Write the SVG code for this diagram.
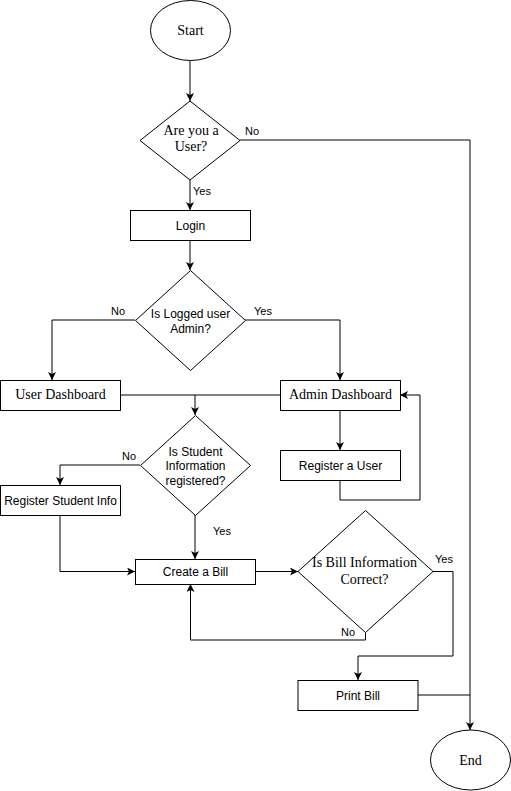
<svg xmlns="http://www.w3.org/2000/svg" width="511" height="791" viewBox="0 0 511 791">
  <style>
    .shape { fill: #ffffff; stroke: #000000; stroke-width: 1; }
    .edge { fill: none; stroke: #000000; stroke-width: 1; }
    .serif { font-family: "Liberation Serif", "Times New Roman", serif; font-size: 14px; fill: #000000; text-anchor: middle; }
    .sans { font-family: "Liberation Sans", Arial, sans-serif; font-size: 12px; fill: #000000; text-anchor: middle; }
    .lbl { font-family: "Liberation Sans", Arial, sans-serif; font-size: 11px; fill: #000000; }
  </style>
  <defs>
    <marker id="arrow" viewBox="0 0 8 8" refX="8" refY="4" markerWidth="8" markerHeight="8" markerUnits="userSpaceOnUse" orient="auto">
      <path d="M0,0 L8,4 L0,8 L2,4 Z" fill="#000000"/>
    </marker>
  </defs>

  <rect width="511" height="791" fill="#ffffff"/>

  <!-- connectors -->
  <g id="connectors">
    <path class="edge" d="M190,61 L190,101" marker-end="url(#arrow)"/>
    <path class="edge" d="M240,140 L470,140 L470,730" marker-end="url(#arrow)"/>
    <path class="edge" d="M190,180 L190,210" marker-end="url(#arrow)"/>
    <path class="edge" d="M190,240 L190,270" marker-end="url(#arrow)"/>
    <path class="edge" d="M135,320 L52,320 L52,380" marker-end="url(#arrow)"/>
    <path class="edge" d="M245,320 L340,320 L340,380" marker-end="url(#arrow)"/>
    <path class="edge" d="M120,395 L280,395"/>
    <path class="edge" d="M195,395 L195,415" marker-end="url(#arrow)"/>
    <path class="edge" d="M340,410 L340,450" marker-end="url(#arrow)"/>
    <path class="edge" d="M340,480 L340,500 L420,500 L420,395 L400,395" marker-end="url(#arrow)"/>
    <path class="edge" d="M140,465 L60,465 L60,485" marker-end="url(#arrow)"/>
    <path class="edge" d="M195,515 L195,559" marker-end="url(#arrow)"/>
    <path class="edge" d="M60,515 L60,571.5 L135,571.5" marker-end="url(#arrow)"/>
    <path class="edge" d="M255,571.5 L298,571.5" marker-end="url(#arrow)"/>
    <path class="edge" d="M365.5,632.5 L365.5,640 L190.5,640 L190.5,584" marker-end="url(#arrow)"/>
    <path class="edge" d="M433,571.5 L453,571.5 L453,656 L358,656 L358,680" marker-end="url(#arrow)"/>
    <path class="edge" d="M418,695 L470,695"/>
    <text class="lbl" x="245" y="135">No</text>
    <text class="lbl" x="193" y="195">Yes</text>
    <text class="lbl" x="111" y="315">No</text>
    <text class="lbl" x="254" y="315">Yes</text>
    <text class="lbl" x="122" y="460">No</text>
    <text class="lbl" x="213" y="535">Yes</text>
    <text class="lbl" x="435" y="563">Yes</text>
    <text class="lbl" x="341" y="636">No</text>
  </g>

  <g id="start">
    <ellipse class="shape" cx="190.5" cy="30.5" rx="40" ry="30"/>
    <text class="serif" x="190.5" y="35">Start</text>
  </g>

  <g id="is-user">
    <path class="shape" d="M190,101 L240,140.5 L190,180 L140,140.5 Z"/>
    <text class="serif" x="191" y="135">Are you a</text>
    <text class="serif" x="191" y="151">User?</text>
  </g>

  <g id="login">
    <rect class="shape" x="130.5" y="210.5" width="120" height="30"/>
    <text class="sans" x="190.5" y="229.5">Login</text>
  </g>

  <g id="is-admin">
    <path class="shape" d="M190.5,270.5 L245.5,320.5 L190.5,370.5 L135.5,320.5 Z"/>
    <text class="sans" x="190.5" y="317.5">Is Logged user</text>
    <text class="sans" x="190.5" y="332.5">Admin?</text>
  </g>

  <g id="user-dashboard">
    <rect class="shape" x="0.5" y="380.5" width="120" height="30"/>
    <text class="serif" x="60.5" y="399">User Dashboard</text>
  </g>

  <g id="admin-dashboard">
    <rect class="shape" x="280.5" y="380.5" width="120" height="30"/>
    <text class="serif" x="340.5" y="399">Admin Dashboard</text>
  </g>

  <g id="register-user">
    <rect class="shape" x="280.5" y="450.5" width="120" height="30"/>
    <text class="sans" x="340.5" y="469.5">Register a User</text>
  </g>

  <g id="is-student-registered">
    <path class="shape" d="M195.5,415.5 L250.5,465.5 L195.5,515.5 L140.5,465.5 Z"/>
    <text class="sans" x="195.5" y="456">Is Student</text>
    <text class="sans" x="195.5" y="470">Information</text>
    <text class="sans" x="195.5" y="484.5">registered?</text>
  </g>

  <g id="register-student">
    <rect class="shape" x="0.5" y="485.5" width="120" height="30"/>
    <text class="sans" x="60.5" y="504.5">Register Student Info</text>
  </g>

  <g id="create-bill">
    <rect class="shape" x="135.5" y="559.5" width="120" height="25"/>
    <text class="sans" x="195.5" y="576">Create a Bill</text>
  </g>

  <g id="is-bill-correct">
    <path class="shape" d="M365.5,510.5 L433,571.5 L365.5,632.5 L298,571.5 Z"/>
    <text class="serif" x="364.5" y="567">Is Bill Information</text>
    <text class="serif" x="364.5" y="584">Correct?</text>
  </g>

  <g id="print-bill">
    <rect class="shape" x="298" y="680.5" width="120" height="30"/>
    <text class="sans" x="358" y="699.5">Print Bill</text>
  </g>

  <g id="end">
    <ellipse class="shape" cx="470.5" cy="760" rx="40" ry="30"/>
    <text class="serif" x="470.5" y="764.5">End</text>
  </g>
</svg>
